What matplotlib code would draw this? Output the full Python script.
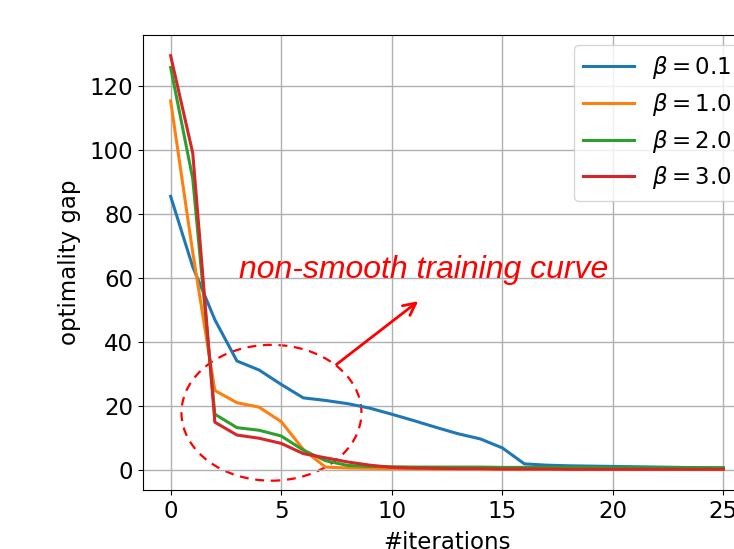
import matplotlib
matplotlib.use("Agg")
import matplotlib.pyplot as plt
from matplotlib.patches import Ellipse

iterations = list(range(26))
beta_labels = [r"$\beta = 0.1$", r"$\beta = 1.0$", r"$\beta = 2.0$", r"$\beta = 3.0$"]
gap_b01 = [85.5, 63.5, 47.0, 34.1, 31.3, 26.8, 22.6, 21.8, 20.8, 19.4, 17.5, 15.5, 13.4, 11.4, 9.8, 7.0, 2.0,
           1.6, 1.4, 1.3, 1.2, 1.1, 1.0, 0.9, 0.8, 0.7]
gap_b10 = [115.3, 68.0, 24.9, 21.1, 19.7, 15.2, 6.5, 1.0, 0.7, 0.6, 0.5, 0.5, 0.4, 0.4, 0.4, 0.3, 0.3,
           0.3, 0.3, 0.3, 0.3, 0.3, 0.3, 0.3, 0.3, 0.3]
gap_b20 = [125.7, 91.0, 17.5, 13.3, 12.5, 10.7, 6.3, 3.0, 1.5, 1.2, 1.1, 1.0, 1.0, 1.0, 1.0, 0.9, 0.9,
           0.9, 0.9, 0.9, 0.8, 0.8, 0.8, 0.8, 0.8, 0.8]
gap_b30 = [129.4, 99.0, 15.0, 11.0, 10.0, 8.4, 5.2, 3.9, 2.6, 1.6, 0.9, 0.7, 0.6, 0.5, 0.5, 0.4, 0.4,
           0.4, 0.3, 0.3, 0.3, 0.3, 0.3, 0.3, 0.3, 0.3]
series = [gap_b01, gap_b10, gap_b20, gap_b30]
colors = ["#1f77b4", "#ff7f0e", "#2ca02c", "#d62728"]

fig = plt.figure(figsize=(7.34, 5.49), dpi=100)
ax = fig.add_axes([143/734, 1-490/549, (751-143)/734, (490-35)/549])

for ys, lab, c in zip(series, beta_labels, colors):
    ax.plot(iterations, ys, color=c, lw=2.2, label=lab)

ax.grid(True, color="#b0b0b0", lw=1.0)
ax.set_xticks([0, 5, 10, 15, 20, 25])
ax.set_yticks([0, 20, 40, 60, 80, 100, 120])
ax.tick_params(labelsize=16.5)
ax.set_xlabel("#iterations", fontsize=16.5, labelpad=6)
ax.set_ylabel("optimality gap", fontsize=16.5, labelpad=6)

ax.legend(loc="upper right", fontsize=16.5, borderaxespad=0.45, handlelength=2.2,
          labelspacing=0.42)

ell = Ellipse((4.56, 17.95), 8.14, 42.4, fill=False, ec="red", ls=(0, (4, 3)), lw=1.6)
ax.add_patch(ell)
ax.annotate("", xy=(11.3, 53.3), xytext=(7.4, 32.5),
            arrowprops=dict(arrowstyle="->", color="red", lw=2, mutation_scale=22))
ax.text(11.43, 59.9, "non-smooth training curve", color="red", fontsize=23,
        style="italic", family="Liberation Sans", ha="center", va="baseline")

fig.savefig("out.png", dpi=100)
